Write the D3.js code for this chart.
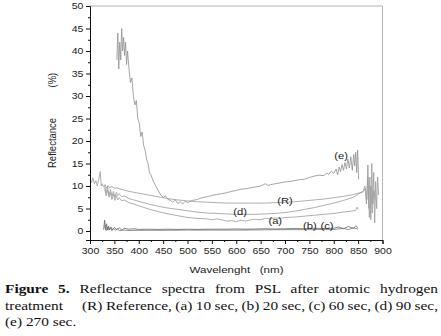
<!DOCTYPE html>
<html lang="en">
<head>
<meta charset="UTF-8">
<title>Reflectance spectra</title>
<script src="https://d3js.org/d3.v7.min.js"></script>
<style>
  body { margin: 0; background: #fff; }
  svg { display: block; }
  .sans { font-family: 'Liberation Sans', Arial, Helvetica, sans-serif; }
  .serif { font-family: 'Liberation Serif', 'Times New Roman', Times, serif; }
</style>
</head>
<body>
<svg id="chart" width="441" height="336"></svg>
<script>
// spectra (wavelength nm / reflectance %)
const waveE = [355,357,359,361,363,365,367,369,371,373,375,377,380,383,386,389,392,395,398,401,404,407,410,413,416,419,422,425,430,435,440,445,450,455,460,465,470,475,480,485,490,495,500,510,520,530,540,550,560,570,580,590,600,610,620,630,640,650,660,665,670,680,690,700,710,720,730,740,750,760,770,780,785,790,795,800,805,808,811,814,817,820,823,826,829,832,835,838,841,843,845,847,849,851];
const reflE = [38,44,36,42,38,45,40,43,39,42,37,40,36,33,34,30,28,29,25,24,21,22,19,18,16,15,13,12.5,11,10,9,8,7.5,7.8,7,6.8,6.4,6.9,6.1,6.5,6.0,6.6,6.3,6.8,7.0,7.4,7.6,7.9,8.1,8.3,8.5,8.8,9.0,9.3,9.4,9.6,9.8,10.0,10.5,10.1,10.3,10.5,10.7,10.9,11.0,11.2,11.4,11.5,11.9,12.2,12.4,12.3,12.9,12.6,13.3,12.8,13.8,12.5,14.2,13.2,14.8,13.5,15.2,13.8,16.0,14.0,16.5,13.5,17.0,14.5,17.5,13.0,18.0,11.5];

const waveR = [300,303,306,309,312,315,318,321,323,325,328,331,334,337,340,345,350,355,360,370,380,390,400,420,440,460,480,500,520,540,560,580,600,620,640,660,680,700,720,740,760,780,800,820,840,860,865,868,870,872,874,876,878,880,882,884,886,888,890,892];
const reflR = [11.5,10.8,11.8,10.5,11.2,10.0,11.5,13.2,10.0,10.5,9.8,10.3,9.5,10.1,9.6,9.9,9.5,9.6,9.4,9.1,8.8,8.6,8.4,8.0,7.6,7.2,6.9,6.7,6.5,6.4,6.3,6.2,6.2,6.2,6.2,6.2,6.3,6.4,6.5,6.7,6.9,7.1,7.4,7.7,8.1,8.7,9.5,7,14.7,5,12,2.5,15,6,13,1.8,11,5,12,8];

const waveD = [330,333,336,339,342,345,348,351,354,357,360,365,370,380,390,400,420,440,460,480,500,520,540,560,580,600,620,640,660,680,700,720,740,760,780,800,820,840,860,864,867,870,873,876,879,882,885];
const reflD = [10.0,8.5,9.8,8.0,9.2,7.8,8.8,7.5,8.6,7.9,8.3,7.6,7.8,7.2,6.9,6.6,6.0,5.5,5.1,4.8,4.5,4.2,4.0,3.9,3.8,3.7,3.7,3.7,3.8,3.9,4.1,4.4,4.8,5.2,5.7,6.2,6.8,7.5,8.8,10,6,12,3,10,4,9,7];

const waveA = [330,333,336,339,342,345,348,351,354,357,360,365,370,380,390,400,420,440,460,480,500,520,540,550,560,570,580,590,600,610,620,630,640,650,660,670,680,690,700,720,740,760,780,800,820,835,845,848,850];
const reflA = [9.5,7.8,9.0,7.5,8.6,7.0,8.2,6.8,7.9,6.9,7.4,6.7,6.9,6.3,6.0,5.6,4.9,4.3,3.8,3.4,3.0,2.8,2.7,2.5,2.7,2.5,2.2,2.3,2.1,2.4,2.2,2.5,2.6,2.5,2.8,2.7,2.9,2.8,3.0,3.1,3.3,3.5,3.7,3.9,4.2,4.4,4.6,5.3,4.8];

const waveB = [328,330,332,334,336,338,340,343,346,350,355,360,365,370,380,390,400,420,440,460,480,500,520,540,560,580,600,620,640,660,680,700,720,740,760,780,800,810,820,830,840,845,850];
const reflB = [0.3,2.4,0.4,1.6,0.2,1.1,0.3,0.9,0.2,0.8,0.3,0.7,0.2,0.6,0.4,0.5,0.35,0.4,0.35,0.4,0.35,0.4,0.35,0.4,0.4,0.4,0.45,0.4,0.45,0.5,0.45,0.5,0.55,0.5,0.6,0.55,0.6,0.9,0.5,1.0,0.6,1.1,0.7];

const waveC = [330,333,336,339,342,345,348,352,356,360,370,380,400,450,500,550,600,650,700,750,800,820,830,840,850];
const reflC = [1.2,0.1,0.9,0.2,0.7,0.1,0.6,0.2,0.5,0.1,0.2,0.1,0.15,0.15,0.2,0.2,0.2,0.25,0.3,0.3,0.35,0.6,0.3,0.7,0.4];

const curveLabels = [
  { text: "(e)", w: 815, r: 16.8 },
  { text: "(R)", w: 700, r: 6.7 },
  { text: "(d)", w: 608, r: 4.2 },
  { text: "(a)", w: 680, r: 2.2 },
  { text: "(b)", w: 751, r: 1.1 },
  { text: "(c)", w: 786, r: 1.1 }
];

const yTicks = [0, 5, 10, 15, 20, 25, 30, 35, 40, 45, 50];
const xTicks = [300, 350, 400, 450, 500, 550, 600, 650, 700, 750, 800, 850, 900];

// caption pieces: [text, bold, left x, right x to justify to (or null)]
const captionLines = [
  [[["Figure 5.", true], [" Reflectance spectra from PSL after atomic hydrogen", false]], 5, 438],
  [[["treatment", false]], 5, null],
  [[["(R) Reference, (a) 10 sec, (b) 20 sec, (c) 60 sec, (d) 90 sec,", false]], 82, 438],
  [[["(e) 270 sec.", false]], 5, null]
];
const captionBase = [292.5, 309.5, 309.5, 325.5];

const svg = d3.select("#chart");
const sx = 1.22; // the figure is stretched sideways

const x = d3.scaleLinear().domain([300, 900]).range([90, 382.5]);
const y = d3.scaleLinear().domain([-2, 50]).range([240, 6]);

// frame
svg.append("path")
  .attr("d", `M${x(300)},${y(50)}H${x(900)}V${y(-2)}`)
  .attr("fill", "none").attr("stroke", "#b4b4b4").attr("stroke-width", 1);

// curves
const line = d3.line().x(d => x(d[0])).y(d => y(d[1]));
const series = [
  [waveR, reflR, "#9a9a9a"],
  [waveD, reflD, "#9a9a9a"],
  [waveA, reflA, "#9a9a9a"],
  [waveE, reflE, "#8f8f8f"],
  [waveC, reflC, "#777"],
  [waveB, reflB, "#666"]
];
series.forEach(([w, r, c]) => {
  svg.append("path")
    .datum(d3.zip(w, r))
    .attr("d", line)
    .attr("fill", "none")
    .attr("stroke", c)
    .attr("stroke-width", 0.8);
});

// axes
const tickFont = g => g.selectAll("text")
  .attr("class", "sans")
  .attr("font-size", 8.6)
  .attr("fill", "#222");

const yAxis = svg.append("g").attr("transform", `translate(${x(300)},0)`)
  .call(d3.axisLeft(y).tickValues(yTicks).tickSize(4).tickPadding(1.5))
  .call(tickFont);
yAxis.attr("font-family", null);
yAxis.selectAll("text").attr("transform", `scale(${sx},1)`).attr("x", -5.4);
svg.append("g").attr("transform", `translate(${x(300)},0)`)
  .call(d3.axisLeft(y).tickValues(d3.range(2.5, 50, 5)).tickSize(2).tickFormat(""))
  .select(".domain").remove();

const xAxis = svg.append("g").attr("transform", `translate(0,${y(-2)})`)
  .call(d3.axisBottom(x).tickValues(xTicks).tickSize(4).tickPadding(4))
  .call(tickFont);
xAxis.attr("font-family", null);
xAxis.selectAll(".tick text").attr("transform", `scale(${sx},1)`);
svg.append("g").attr("transform", `translate(0,${y(-2)})`)
  .call(d3.axisBottom(x).tickValues(d3.range(325, 900, 50)).tickSize(2).tickFormat(""))
  .select(".domain").remove();
svg.selectAll(".domain, .tick line").attr("stroke", "#111");

// axis titles
svg.append("text")
  .attr("class", "sans")
  .attr("transform", `translate(236.5,273) scale(${sx},1)`)
  .attr("text-anchor", "middle")
  .attr("font-size", 9.5)
  .attr("fill", "#222")
  .style("white-space", "pre")
  .text("Wavelenght   (nm)");

const yTitle = svg.append("g").attr("transform", `translate(55.5,0) rotate(-90) scale(1,${sx})`);
yTitle.append("text").attr("class", "sans").attr("x", -168).attr("y", 0)
  .attr("font-size", 9.5).attr("fill", "#222")
  .text("Reflectance");
yTitle.append("text").attr("class", "sans").attr("x", -87.5).attr("y", 0)
  .attr("font-size", 9.5).attr("fill", "#222")
  .text("(%)");

// curve labels
curveLabels.forEach(l => {
  svg.append("text")
    .attr("class", "sans")
    .attr("transform", `translate(${x(l.w)},${y(l.r) + 3.3}) scale(${sx},1)`)
    .attr("text-anchor", "middle")
    .attr("font-size", 9.2)
    .attr("fill", "#222")
    .text(l.text);
});

// caption, justified where a right edge is given
const capSx = 1.24;
captionLines.forEach(([parts, left, right], i) => {
  const t = svg.append("text")
    .attr("class", "serif")
    .attr("transform", `translate(${left},${captionBase[i]}) scale(${capSx},1)`)
    .attr("font-size", 12.4)
    .attr("fill", "#111")
    .style("white-space", "pre");
  parts.forEach(([s, bold]) => {
    t.append("tspan").attr("font-weight", bold ? "bold" : "normal").text(s);
  });
  if (right) {
    const full = parts.map(p => p[0]).join("");
    const spaces = (full.match(/ /g) || []).length;
    const natural = t.node().getComputedTextLength();
    const target = (right - left) / capSx;
    t.attr("word-spacing", (target - natural) / spaces);
  }
});
</script>
</body>
</html>
